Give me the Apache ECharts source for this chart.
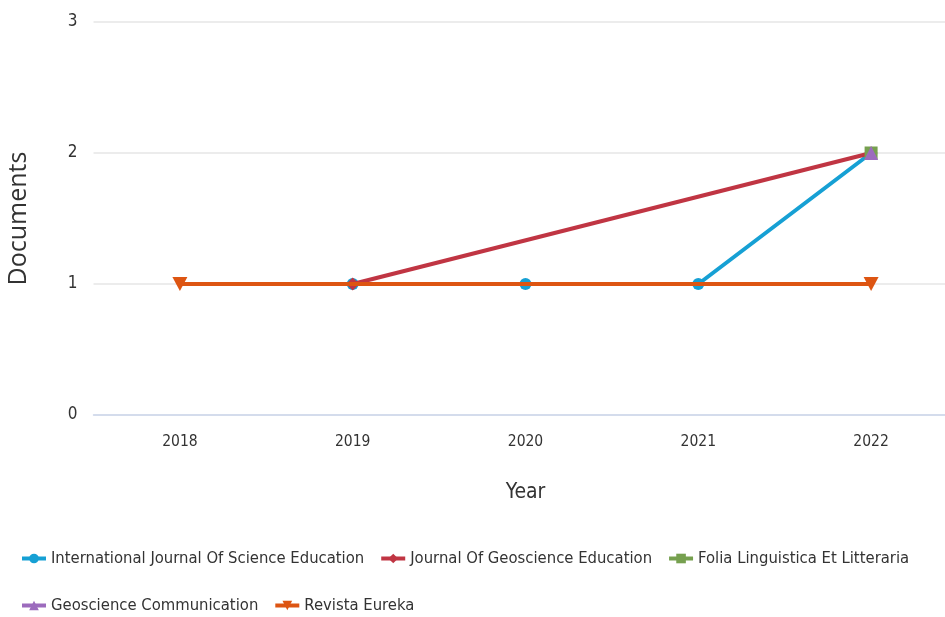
<!DOCTYPE html>
<html>
<head>
<meta charset="utf-8">
<script src="https://cdn.jsdelivr.net/npm/echarts@6/dist/echarts.min.js"></script>
<style>
html,body{margin:0;padding:0;background:#fff;}
#c{width:945px;height:617px;}
</style>
</head>
<body>
<div id="c"></div>
<script>
var years = ['2018', '2019', '2020', '2021', '2022'];
var ijse = [null, 1, 1, 1, 2];
var jge = [null, 1, null, null, 2];
var folia = [null, null, null, null, 2];
var geocom = [null, null, null, null, 2];
var eureka = [1, null, null, null, 1];
var yTicks = [0, 1, 2, 3];

var NARROW = "'DejaVu Sans Condensed', sans-serif";
var chart = echarts.init(document.getElementById('c'));
function ser(name, data, color, symbol, size, z) {
  return {
    name: name, type: 'line', data: data, connectNulls: true,
    symbol: symbol, symbolSize: size, showAllSymbol: true,
    lineStyle: {width: 4, color: color},
    itemStyle: {color: color},
    z: z, animation: false
  };
}
var legendCommon = {
  padding: 0,
  itemWidth: 24, itemHeight: 12, itemGap: 15,
  textStyle: {fontFamily: NARROW, fontSize: 16.5, color: '#333'},
  lineStyle: {width: 4}
};
chart.setOption({
  animation: false,
  grid: {left: 93.5, right: -12.5, top: 22, bottom: 202, containLabel: false, outerBoundsMode: 'none'},
  xAxis: {
    type: 'category', data: years, boundaryGap: true,
    name: 'Year', nameLocation: 'middle', nameGap: 67,
    nameTextStyle: {fontFamily: NARROW, fontSize: 21, color: '#333'},
    axisLine: {show: true, lineStyle: {color: '#ccd6eb', width: 1.5}}, axisTick: {show: false},
    axisLabel: {fontFamily: NARROW, fontSize: 15.5, color: '#333', margin: 19}
  },
  yAxis: {
    type: 'value', min: 0, max: 3, interval: 1,
    name: 'Documents', nameLocation: 'middle', nameGap: 62, nameRotate: 90,
    nameTextStyle: {fontFamily: "'Open Sans', sans-serif", fontSize: 25, color: '#333', letterSpacing: 2.8},
    axisLabel: {fontFamily: NARROW, fontSize: 17, color: '#333', margin: 16,
      formatter: function(v){ return yTicks.indexOf(v) >= 0 ? String(v) : ''; }},
    splitLine: {lineStyle: {color: '#e6e6e6', width: 1.5}},
    axisLine: {show: false}
  },
  legend: [Object.assign({
    left: 20, top: 550,
    data: ['International Journal Of Science Education', 'Journal Of Geoscience Education', 'Folia Linguistica Et Litteraria']
  }, legendCommon), Object.assign({
    left: 20, top: 597,
    data: ['Geoscience Communication', 'Revista Eureka']
  }, legendCommon)],
  series: [
    ser('International Journal Of Science Education', ijse, '#16a0d4', 'circle', 12, 2),
    ser('Journal Of Geoscience Education', jge, '#c03543', 'diamond', 13, 3),
    ser('Folia Linguistica Et Litteraria', folia, '#76a04f', 'rect', 13, 4),
    ser('Geoscience Communication', geocom, '#9c6bbd', 'triangle', 14, 5),
    ser('Revista Eureka', eureka, '#dd5512', 'path://M0,0 L10,0 L5,10 Z', [15, 14], 6)
  ]
});
</script>
</body>
</html>
